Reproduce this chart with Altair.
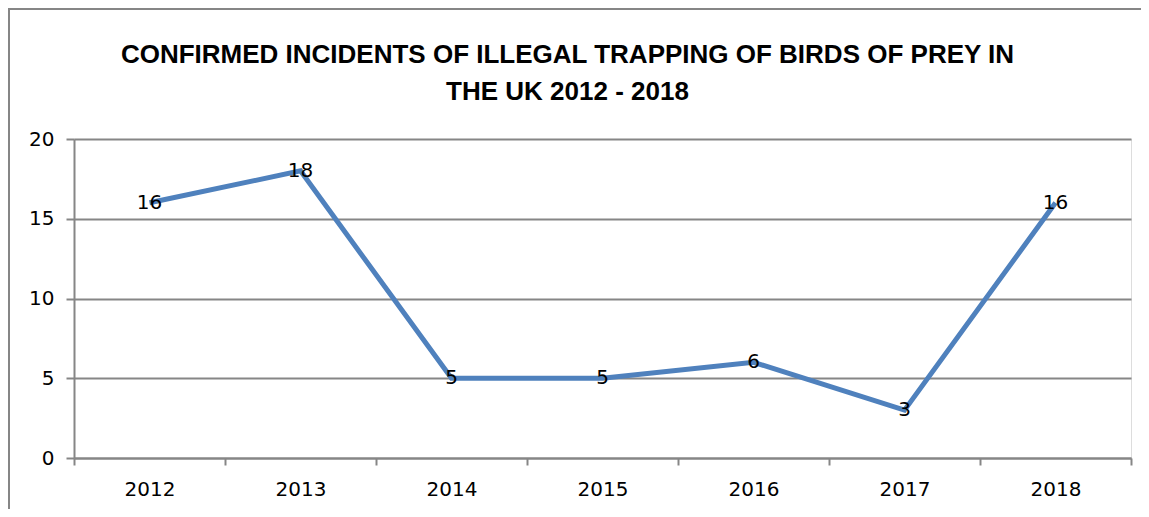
import altair as alt
import pandas as pd

years = ["2012", "2013", "2014", "2015", "2016", "2017", "2018"]
incidents = [16, 18, 5, 5, 6, 3, 16]
y_ticks = [0, 5, 10, 15, 20]
title_lines = ["CONFIRMED INCIDENTS OF ILLEGAL  TRAPPING OF BIRDS OF PREY IN", "THE UK 2012 - 2018"]

df = pd.DataFrame({"year": years, "incidents": incidents})

W, H = 1057, 319
PAD_L, PAD_T, PAD_R, PAD_B = 66, 131, 10, 51
GRAY = "#868686"
LINE = "#4F81BD"
FONT = "DejaVu Sans"

x_enc = alt.X(
    "year:O",
    sort=years,
    bandPosition=0.5,
    scale=alt.Scale(type="band", paddingInner=0, paddingOuter=0),
    axis=alt.Axis(
        title=None, labelAngle=0, tickBand="extent", tickSize=7, tickWidth=2,
        tickColor=GRAY, domainColor=GRAY, domainWidth=2, labelFont=FONT,
        labelFontSize=20, labelColor="#000000", labelPadding=14, grid=False,
    ),
)
y_enc = alt.Y(
    "incidents:Q",
    scale=alt.Scale(domain=[0, 20], nice=False, zero=True),
    axis=alt.Axis(
        title=None, values=y_ticks, grid=True, gridColor=GRAY, gridWidth=2,
        tickSize=8, tickWidth=2, tickColor=GRAY, domainColor=GRAY, domainWidth=2,
        labelFont=FONT, labelFontSize=20, labelColor="#000000", labelPadding=12,
    ),
)

base = alt.Chart(df)

line = base.mark_line(color=LINE, strokeWidth=5, strokeJoin="miter").encode(x=x_enc, y=y_enc)

labels = base.mark_text(
    font=FONT, fontSize=20, color="#000000", align="center", baseline="middle"
).encode(x=alt.X("year:O", sort=years, bandPosition=0.5), y="incidents:Q", text="incidents:Q")

frame_left = base.mark_rule(color=GRAY, strokeWidth=2).encode(
    x=alt.value(-PAD_L + 1), y=alt.value(-PAD_T), y2=alt.value(H + PAD_B)
)
frame_top = base.mark_rule(color=GRAY, strokeWidth=2).encode(
    x=alt.value(-PAD_L), x2=alt.value(W + PAD_R), y=alt.value(-PAD_T + 1)
)

chart = (
    alt.layer(line, labels, frame_left, frame_top)
    .properties(
        width=W,
        height=H,
        autosize=alt.AutoSizeParams(type="none"),
        padding={"left": PAD_L, "top": PAD_T, "right": PAD_R, "bottom": PAD_B},
        title=alt.TitleParams(
            text=title_lines,
            font="Liberation Sans",
            fontSize=26,
            fontWeight="bold",
            color="#000000",
            anchor="middle",
            frame="group",
            dx=-35,
            dy=98,
            offset=0,
            lineHeight=37,
        ),
    )
    .configure_view(stroke=None)
    .configure(background="#ffffff")
)

chart.save("out.html", embed_options={"renderer": "svg", "actions": False})
